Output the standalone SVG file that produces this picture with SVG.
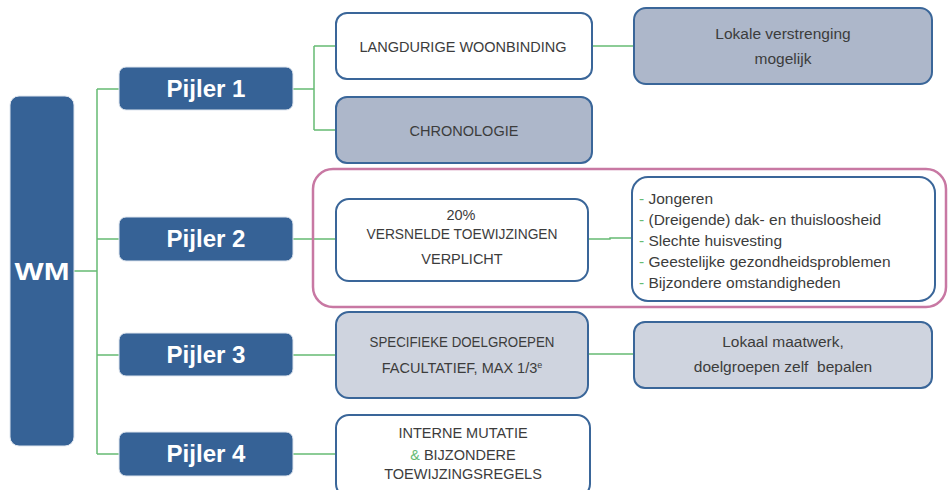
<svg xmlns="http://www.w3.org/2000/svg" width="948" height="490" viewBox="0 0 948 490">
<style>
.dk{fill:#366296;stroke:#dfe6ef;stroke-width:1}
.bx{stroke:#3a6699;stroke-width:2}
.w{fill:#ffffff}
.g1{fill:#adb7ca}
.g2{fill:#cfd4df}
.t{font-family:"Liberation Sans",Arial,sans-serif;font-size:14.5px;fill:#3c3c3c;text-anchor:middle}
.m{font-size:15.5px}
.tl{font-family:"Liberation Sans",Arial,sans-serif;font-size:15.5px;fill:#3c3c3c}
.pj{font-family:"Liberation Sans",Arial,sans-serif;font-size:24px;font-weight:bold;fill:#ffffff;text-anchor:middle}
.cn{fill:none;stroke:#66bb73;stroke-width:1.5}
.gr{fill:#66bb73}
</style>
<rect width="948" height="490" fill="#ffffff"/>
<g id="connectors">
<path class="cn" d="M74 271H97M97 89V454M97 89H119M97 239H119M97 355H119M97 454H119" stroke-width="2"/>
<path class="cn" d="M293 89H314M314 46V130M314 46H336M314 130H336"/>
<path class="cn" d="M592 46H634"/>
<path class="cn" d="M293 239H336M588 239H610V238H633"/>
<path class="cn" d="M293 355H336M588 354H634"/>
<path class="cn" d="M293 454H336"/>
</g>
<g id="group-pijler2">
<rect x="313" y="169" width="633" height="138" rx="20" fill="none" stroke="#c878a3" stroke-width="2.5"/>
</g>
<g id="wm">
<rect class="dk" x="10" y="96" width="64" height="350" rx="9"/>
<text class="pj" x="42" y="280" font-size="28" textLength="55" lengthAdjust="spacingAndGlyphs">WM</text>
</g>
<g id="pijler1">
<rect class="dk" x="119" y="67" width="174" height="43" rx="7"/>
<text class="pj" x="206" y="97" textLength="79" lengthAdjust="spacingAndGlyphs">Pijler 1</text>
</g>
<g id="pijler2">
<rect class="dk" x="119" y="217" width="174" height="44" rx="7"/>
<text class="pj" x="206" y="247" textLength="79" lengthAdjust="spacingAndGlyphs">Pijler 2</text>
</g>
<g id="pijler3">
<rect class="dk" x="119" y="333" width="174" height="43" rx="7"/>
<text class="pj" x="206" y="363" textLength="79" lengthAdjust="spacingAndGlyphs">Pijler 3</text>
</g>
<g id="pijler4">
<rect class="dk" x="119" y="432" width="174" height="44" rx="7"/>
<text class="pj" x="206" y="462" textLength="79" lengthAdjust="spacingAndGlyphs">Pijler 4</text>
</g>
<g id="langdurige">
<rect class="bx w" x="336" y="13" width="256" height="66" rx="11"/>
<text class="t" x="463" y="52">LANGDURIGE WOONBINDING</text>
</g>
<g id="chronologie">
<rect class="bx g1" x="336" y="97" width="256" height="66" rx="11"/>
<text class="t" x="464" y="136">CHRONOLOGIE</text>
</g>
<g id="lokale">
<rect class="bx g1" x="634" y="8" width="298" height="76" rx="12"/>
<text class="t m" x="783" y="39">Lokale verstrenging</text>
<text class="t m" x="783" y="64">mogelijk</text>
</g>
<g id="versnelde">
<rect class="bx w" x="336" y="199" width="252" height="82" rx="13"/>
<text class="t" x="461" y="220">20%</text>
<text class="t" x="462" y="239" textLength="191" lengthAdjust="spacingAndGlyphs">VERSNELDE TOEWIJZINGEN</text>
<text class="t" x="462" y="264">VERPLICHT</text>
</g>
<g id="doelgroepen-lijst">
<rect class="bx w" x="632" y="177" width="303" height="124" rx="16"/>
<text class="tl"><tspan class="gr" x="639" y="204">- </tspan><tspan>Jongeren</tspan><tspan class="gr" x="639" y="224.5">- </tspan><tspan>(Dreigende) dak- en thuisloosheid</tspan><tspan class="gr" x="639" y="245.5">- </tspan><tspan>Slechte huisvesting</tspan><tspan class="gr" x="639" y="266.5">- </tspan><tspan>Geestelijke gezondheidsproblemen</tspan><tspan class="gr" x="639" y="287.5">- </tspan><tspan>Bijzondere omstandigheden</tspan></text>
</g>
<g id="specifieke">
<rect class="bx g2" x="336" y="312" width="252" height="86" rx="13"/>
<text class="t" x="462" y="347" textLength="185" lengthAdjust="spacingAndGlyphs">SPECIFIEKE DOELGROEPEN</text>
<text class="t" x="462" y="373">FACULTATIEF, MAX 1/3<tspan font-size="9" dy="-5">e</tspan></text>
</g>
<g id="lokaal-maatwerk">
<rect class="bx g2" x="634" y="322" width="298" height="66" rx="11"/>
<text class="t m" x="783" y="347">Lokaal maatwerk,</text>
<text class="t m" x="783" y="372" xml:space="preserve">doelgroepen zelf  bepalen</text>
</g>
<g id="interne">
<rect class="bx w" x="336" y="415" width="254" height="82" rx="13"/>
<text class="t" x="463" y="438">INTERNE MUTATIE</text>
<text class="t" x="463" y="460"><tspan class="gr">&amp;</tspan> BIJZONDERE</text>
<text class="t" x="463" y="479">TOEWIJZINGSREGELS</text>
</g>
</svg>
